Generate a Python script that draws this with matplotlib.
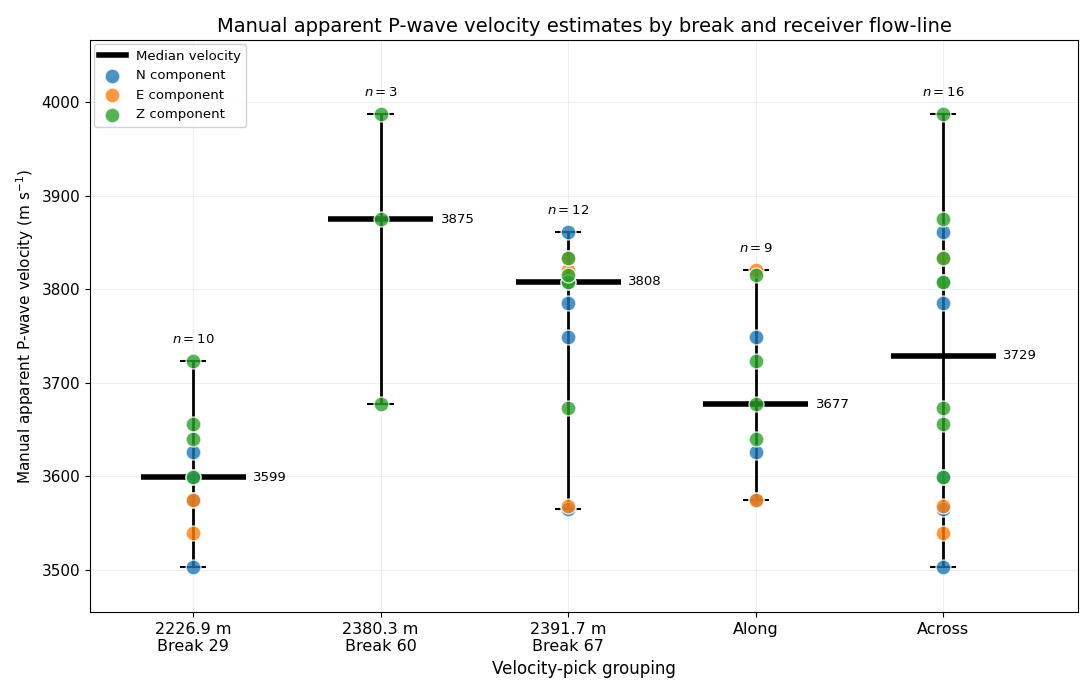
import numpy as np
import matplotlib
matplotlib.use("Agg")
import matplotlib.pyplot as plt

# picks: velocity, component, break group, flow-line
velocity = [3503, 3539, 3575, 3575, 3599, 3599, 3626, 3640, 3656, 3723,
            3677, 3875, 3987,
            3565, 3568, 3673, 3749, 3785, 3808, 3808, 3815, 3820, 3833, 3833, 3861]
component = ["N", "E", "N", "E", "N", "Z", "N", "Z", "Z", "Z",
             "Z", "Z", "Z",
             "N", "E", "Z", "N", "N", "Z", "Z", "Z", "E", "E", "Z", "N"]
brk = [29] * 10 + [60] * 3 + [67] * 12
flow = ["across", "across", "along", "along", "across", "across", "along", "along", "across", "along",
        "along", "across", "across",
        "across", "across", "across", "along", "across", "across", "across", "along", "along",
        "across", "across", "across"]

group_labels = ["2226.9 m\nBreak 29", "2380.3 m\nBreak 60", "2391.7 m\nBreak 67", "Along", "Across"]
comp_colors = {"N": "tab:blue", "E": "tab:orange", "Z": "tab:green"}

velocity = np.array(velocity)
component = np.array(component)
brk = np.array(brk)
flow = np.array(flow)
masks = [brk == 29, brk == 60, brk == 67, flow == "along", flow == "across"]

fig = plt.figure(figsize=(10.8, 6.83), dpi=100)
ax = fig.add_axes([0.0833, 0.104, 0.915, 0.837])

for i, m in enumerate(masks):
    v = velocity[m]
    c = component[m]
    lo, hi, med = v.min(), v.max(), np.median(v)
    ax.vlines(i, lo, hi, color="black", lw=2, zorder=2)
    ax.hlines([lo, hi], i - 0.07, i + 0.07, color="black", lw=1.5, zorder=2)
    ax.hlines(med, i - 0.28, i + 0.28, color="black", lw=4, zorder=3)
    for comp in ["N", "E", "Z"]:
        sel = c == comp
        ax.scatter(np.full(sel.sum(), i), v[sel], s=115, color=comp_colors[comp],
                   alpha=0.8, edgecolor="white", linewidth=1, zorder=4)
    ax.text(i + 0.32, med, f"{med:.0f}", va="center", ha="left", fontsize=9.5)
    ax.text(i, hi + 16, f"$n = {len(v)}$", ha="center", va="bottom", fontsize=9.5)

# legend handles
ax.plot([], [], color="black", lw=4, label="Median velocity")
for comp in ["N", "E", "Z"]:
    ax.scatter([], [], s=115, color=comp_colors[comp], alpha=0.8, edgecolor="white",
               label=f"{comp} component")
ax.legend(loc="upper left", fontsize=9.5, framealpha=0.9, borderaxespad=0.3)

ax.set_xticks(range(len(group_labels)))
ax.set_xticklabels(group_labels, fontsize=11.5)
ax.set_yticks(np.arange(3500, 4001, 100))
ax.tick_params(axis="y", labelsize=11)
ax.set_xlim(-0.55, 4.72)
ax.set_ylim(3455, 4066)
ax.grid(True, alpha=0.2)
ax.set_axisbelow(True)
ax.set_xlabel("Velocity-pick grouping", fontsize=12)
ax.set_ylabel("Manual apparent P-wave velocity (m s$^{-1}$)", fontsize=11)
ax.set_title("Manual apparent P-wave velocity estimates by break and receiver flow-line", fontsize=14)

fig.savefig("out.png", dpi=100)
